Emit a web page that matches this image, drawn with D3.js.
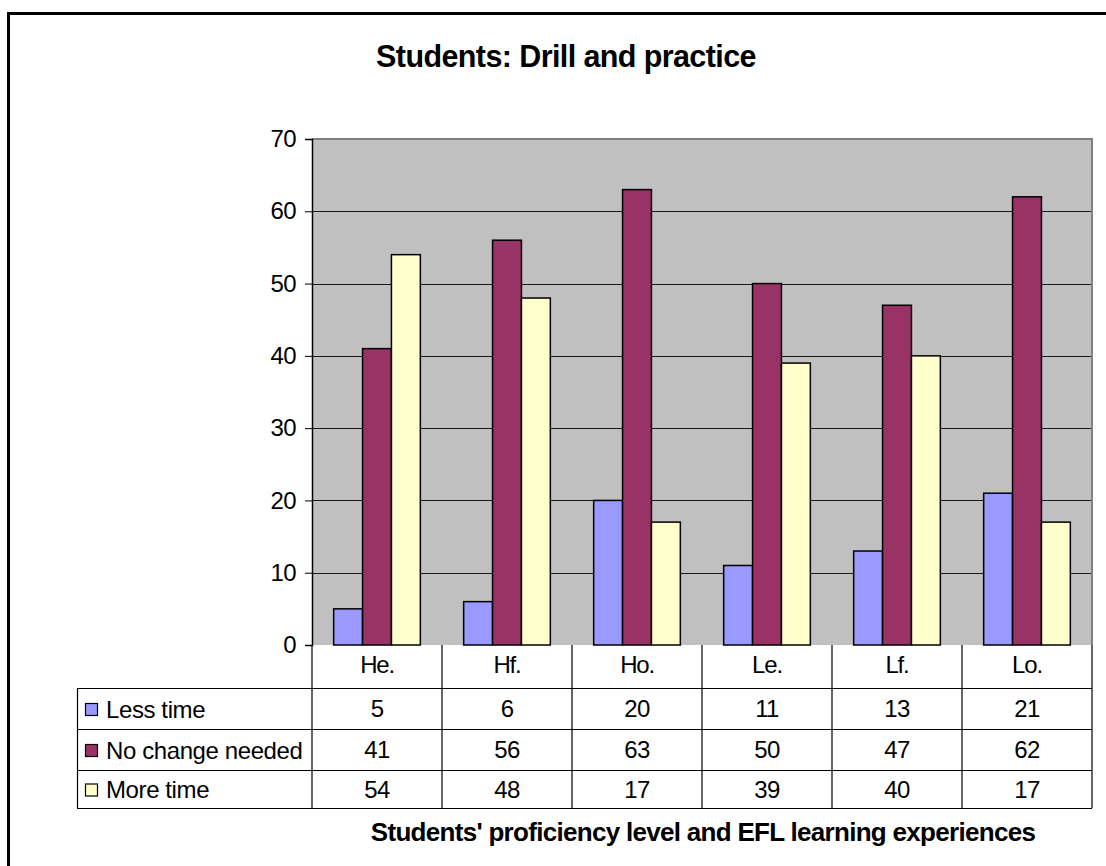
<!DOCTYPE html>
<html>
<head>
<meta charset="utf-8">
<script src="https://cdn.jsdelivr.net/npm/d3@7/dist/d3.min.js"></script>
<style>
  html, body { margin: 0; padding: 0; background: #fff; }
  svg { display: block; font-family: "Liberation Sans", Arial, sans-serif; }
</style>
</head>
<body>
<svg id="chart" width="1106" height="866"></svg>
<script>
// Categories: proficiency level / EFL learning experience groups
const categories = ["He.", "Hf.", "Ho.", "Le.", "Lf.", "Lo."];
const seriesNames = ["Less time", "No change needed", "More time"];
const lessTime = [5, 6, 20, 11, 13, 21];
const noChange = [41, 56, 63, 50, 47, 62];
const moreTime = [54, 48, 17, 39, 40, 17];
const seriesColors = ["#9999FF", "#993366", "#FFFFCC"];
const yTicks = [0, 10, 20, 30, 40, 50, 60, 70];

const series = [lessTime, noChange, moreTime].map((vals, i) => ({
  name: seriesNames[i], color: seriesColors[i], values: vals
}));

const svg = d3.select("#chart");

// Layout
const plot = { left: 312, right: 1092, top: 139, bottom: 645 };
const rowH = [43, 41, 41, 38]; // header row + three data rows
const tableLeft = 77;
const bodyFont = 24;

// Outer chart frame (extends past the right/bottom edges)
svg.append("rect")
  .attr("x", 8.5).attr("y", 13.5)
  .attr("width", 1200).attr("height", 1000)
  .attr("fill", "#fff").attr("stroke", "#000").attr("stroke-width", 3);

// Scales
const x0 = d3.scaleBand().domain(categories).range([plot.left, plot.right]).paddingInner(0).paddingOuter(0);
const groupPad = x0.bandwidth() * (1.5 / 4.5) / 2;
const x1 = d3.scaleBand().domain(d3.range(series.length))
  .range([groupPad, x0.bandwidth() - groupPad]).padding(0);
const y = d3.scaleLinear().domain([0, 70]).range([plot.bottom, plot.top]);

// Plot background
svg.append("rect")
  .attr("x", plot.left).attr("y", plot.top)
  .attr("width", plot.right - plot.left).attr("height", plot.bottom - plot.top)
  .attr("fill", "#C0C0C0");

// Gridlines
svg.append("g")
  .selectAll("line")
  .data(yTicks.filter(t => t > 0 && t < 70))
  .join("line")
  .attr("x1", plot.left).attr("x2", plot.right)
  .attr("y1", d => Math.round(y(d)) + 0.5).attr("y2", d => Math.round(y(d)) + 0.5)
  .attr("stroke", "#1a1a1a").attr("stroke-width", 1.2);

// Plot border (grey)
svg.append("path")
  .attr("d", `M${plot.left},${plot.top}H${plot.right}V${plot.bottom}`)
  .attr("fill", "none").attr("stroke", "#808080").attr("stroke-width", 2);

// Bars
const groups = svg.append("g").selectAll("g")
  .data(categories)
  .join("g")
  .attr("transform", d => `translate(${x0(d)},0)`);

groups.selectAll("rect")
  .data((d, ci) => series.map((s, si) => ({ si, value: s.values[ci], color: s.color })))
  .join("rect")
  .attr("x", d => x1(d.si))
  .attr("y", d => y(d.value))
  .attr("width", x1.bandwidth())
  .attr("height", d => y(0) - y(d.value))
  .attr("fill", d => d.color)
  .attr("stroke", "#000").attr("stroke-width", 1.5);

// Y axis
const yAxis = d3.axisLeft(y).tickValues(yTicks).tickSize(7).tickPadding(9);
const yg = svg.append("g")
  .attr("transform", `translate(${plot.left},0)`)
  .call(yAxis);
yg.select(".domain").attr("stroke", "#000").attr("stroke-width", 1.5);
yg.selectAll(".tick line").attr("stroke", "#000");
yg.selectAll(".tick text")
  .attr("font-size", bodyFont).attr("fill", "#000").attr("letter-spacing", -0.6)
  .attr("font-family", "Liberation Sans, Arial, sans-serif");

// Y axis title
svg.append("clipPath").attr("id", "ylabClip")
  .append("rect").attr("x", 0).attr("y", 342).attr("width", 120).attr("height", 200);
svg.append("text")
  .attr("clip-path", "url(#ylabClip)")
  .attr("transform", "translate(59,388) rotate(-90)")
  .attr("text-anchor", "middle")
  .attr("font-size", 24).attr("font-weight", "bold")
  .attr("letter-spacing", -0.5)
  .text("% rating");

// Title
svg.append("text")
  .attr("x", 566).attr("y", 67)
  .attr("text-anchor", "middle")
  .attr("font-size", 30.5).attr("font-weight", "bold")
  .attr("letter-spacing", -0.6)
  .text("Students: Drill and practice");

// Data table
const table = svg.append("g");
const rowY = [plot.bottom];
rowH.forEach(h => rowY.push(rowY[rowY.length - 1] + h));
const tableBottom = rowY[rowY.length - 1];

// Horizontal rules
table.selectAll("line.h")
  .data(rowY.slice(1))
  .join("line")
  .attr("x1", tableLeft).attr("x2", plot.right)
  .attr("y1", d => d + 0.5).attr("y2", d => d + 0.5)
  .attr("stroke", "#000").attr("stroke-width", 1.2);

// Vertical rules at category boundaries
const colEdges = categories.map(c => x0(c)).concat([plot.right]);
table.selectAll("line.v")
  .data(colEdges)
  .join("line")
  .attr("x1", d => d).attr("x2", d => d)
  .attr("y1", plot.bottom).attr("y2", tableBottom)
  .attr("stroke", "#000").attr("stroke-width", 1.2);
table.append("line")
  .attr("x1", tableLeft + 0.5).attr("x2", tableLeft + 0.5)
  .attr("y1", rowY[1]).attr("y2", tableBottom)
  .attr("stroke", "#000").attr("stroke-width", 1.2);

// Category header labels
table.selectAll("text.cat")
  .data(categories)
  .join("text")
  .attr("x", d => x0(d) + x0.bandwidth() / 2)
  .attr("y", (rowY[0] + rowY[1]) / 2 + 6)
  .attr("text-anchor", "middle")
  .attr("font-size", bodyFont).attr("letter-spacing", -1.2)
  .text(d => d);

// Series rows: legend key, name, values
series.forEach((s, si) => {
  const top = rowY[si + 1], bot = rowY[si + 2];
  const mid = (top + bot) / 2;
  table.append("rect")
    .attr("x", 85.5).attr("y", mid - 5)
    .attr("width", 12).attr("height", 12)
    .attr("fill", s.color).attr("stroke", "#000").attr("stroke-width", 1.2);
  table.append("text")
    .attr("x", 106).attr("y", mid + 9)
    .attr("font-size", bodyFont).attr("letter-spacing", -0.4)
    .text(s.name);
  table.selectAll(null)
    .data(s.values)
    .join("text")
    .attr("x", (d, ci) => x0(categories[ci]) + x0.bandwidth() / 2)
    .attr("y", mid + 8.5)
    .attr("text-anchor", "middle")
    .attr("font-size", bodyFont).attr("letter-spacing", -0.6)
    .text(d => d);
});

// X axis title
svg.append("text")
  .attr("x", 703).attr("y", 841)
  .attr("text-anchor", "middle")
  .attr("font-size", 26).attr("font-weight", "bold")
  .attr("letter-spacing", -0.7)
  .text("Students' proficiency level and EFL learning experiences");
</script>
</body>
</html>
